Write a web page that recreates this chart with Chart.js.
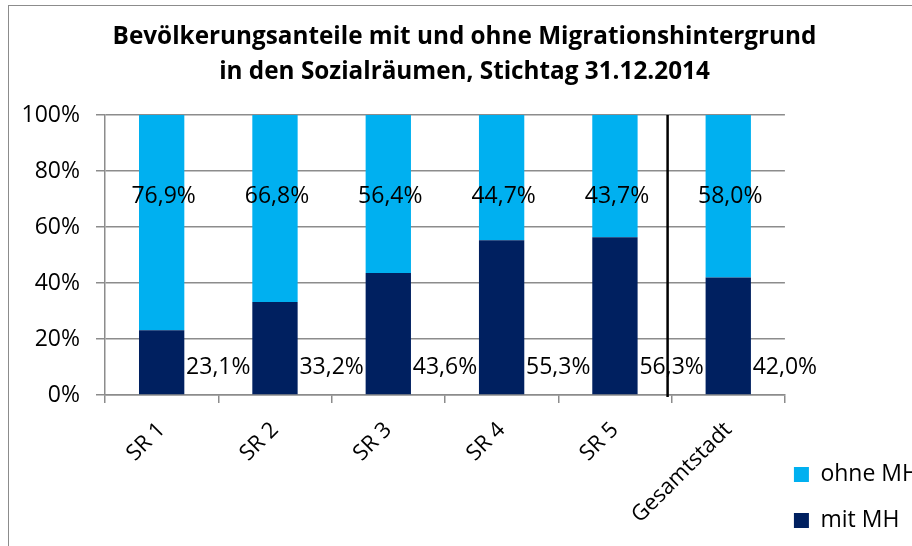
<!DOCTYPE html>
<html>
<head>
<meta charset="utf-8">
<script src="https://cdn.jsdelivr.net/npm/chart.js@4/dist/chart.umd.min.js"></script>
<style>
    body { margin: 0; background: #fff; }
    #wrap { position: relative; width: 912px; height: 546px; overflow: hidden; }
    #frame { position: absolute; left: 8px; top: 5px; width: 960px; height: 600px;
             border: 1.5px solid #8c8c8c; pointer-events: none; }
    #chart { position: absolute; left: 0; top: 0; }
</style>
</head>
<body>
<div id="wrap">
    <canvas id="chart" width="936" height="555"></canvas>
    <div id="frame"></div>
</div>
<script>
const categories = ['SR 1', 'SR 2', 'SR 3', 'SR 4', 'SR 5', 'Gesamtstadt'];
const mit_mh = [23.1, 33.2, 43.6, 55.3, 56.3, 42.0];
const ohne_mh = [76.9, 66.8, 56.4, 44.7, 43.7, 58.0];
const y_ticks = [0, 20, 40, 60, 80, 100];

const FONT = "'Open Sans', 'DejaVu Sans', sans-serif";

function pct(v) {
    return v.toFixed(1).replace('.', ',') + '%';
}

// value labels + separator line before "Gesamtstadt"
const labelsPlugin = {
    id: 'valueLabels',
    afterDatasetsDraw: function (chart) {
        let ctx = chart.ctx;
        let x = chart.scales.x;
        let y = chart.scales.y;
        let step = x.getPixelForValue(1) - x.getPixelForValue(0);

        ctx.save();
        ctx.font = '23px ' + FONT;
        ctx.fillStyle = '#000';
        ctx.textAlign = 'center';
        ctx.textBaseline = 'middle';
        for (let i = 0; i < categories.length; i++) {
            let cx = x.getPixelForValue(i);
            ctx.fillText(pct(ohne_mh[i]), cx + 2, y.getPixelForValue(71));
            ctx.fillText(pct(mit_mh[i]), cx + step / 2, y.getPixelForValue(10));
        }

        let sx = (x.getPixelForValue(4) + x.getPixelForValue(5)) / 2 - 4;
        ctx.strokeStyle = '#000';
        ctx.lineWidth = 2.5;
        ctx.beginPath();
        ctx.moveTo(sx, y.getPixelForValue(100));
        ctx.lineTo(sx, y.getPixelForValue(0) + 2);
        ctx.stroke();
        ctx.restore();
    }
};

window.addEventListener('load', function () {
    let ctx = document.getElementById('chart').getContext('2d');
    new Chart(ctx, {
        type: 'bar',
        data: {
            labels: categories,
            datasets: [{
                label: ['mit MH'],
                data: mit_mh,
                backgroundColor: '#002060',
                borderWidth: 0
            }, {
                label: ['ohne MH'],
                data: ohne_mh,
                backgroundColor: '#00B0F0',
                borderWidth: 0
            }]
        },
        options: {
            responsive: false,
            animation: false,
            layout: { padding: { left: 0, right: 7, top: 0, bottom: 0 } },
            datasets: { bar: { categoryPercentage: 1, barPercentage: 0.4 } },
            plugins: {
                title: {
                    display: true,
                    text: ['Bevölkerungsanteile mit und ohne Migrationshintergrund',
                           'in den Sozialräumen, Stichtag 31.12.2014'],
                    color: '#000',
                    font: { family: FONT, size: 24.3, weight: 'bold', lineHeight: 35 / 24.3 },
                    padding: { top: 19.5, bottom: 25.5 }
                },
                legend: {
                    position: 'right',
                    align: 'end',
                    reverse: true,
                    labels: {
                        color: '#000',
                        font: { family: FONT, size: 23, lineHeight: 37 / 23 },
                        boxWidth: 15,
                        boxHeight: 15,
                        padding: 9
                    }
                },
                tooltip: { enabled: false }
            },
            scales: {
                x: {
                    stacked: true,
                    afterFit: function (scale) { scale.height = 160; },
                    grid: { drawOnChartArea: false, tickLength: 8, color: '#8c8c8c', lineWidth: 1.5 },
                    border: { color: '#8c8c8c', width: 1.5 },
                    ticks: {
                        color: '#000',
                        font: { family: FONT, size: 22 },
                        minRotation: 45,
                        maxRotation: 45,
                        padding: 14
                    }
                },
                y: {
                    stacked: true,
                    min: 0,
                    max: 100,
                    afterFit: function (scale) { scale.width = 105; },
                    afterBuildTicks: function (scale) {
                        scale.ticks = y_ticks.map(function (v) { return { value: v }; });
                    },
                    grid: { color: '#8c8c8c', lineWidth: 1.5, tickLength: 9 },
                    border: { color: '#8c8c8c', width: 1.5 },
                    ticks: {
                        color: '#000',
                        font: { family: FONT, size: 23 },
                        padding: 16,
                        callback: function (v) { return v + '%'; }
                    }
                }
            }
        },
        plugins: [labelsPlugin]
    });
});
</script>
</body>
</html>
